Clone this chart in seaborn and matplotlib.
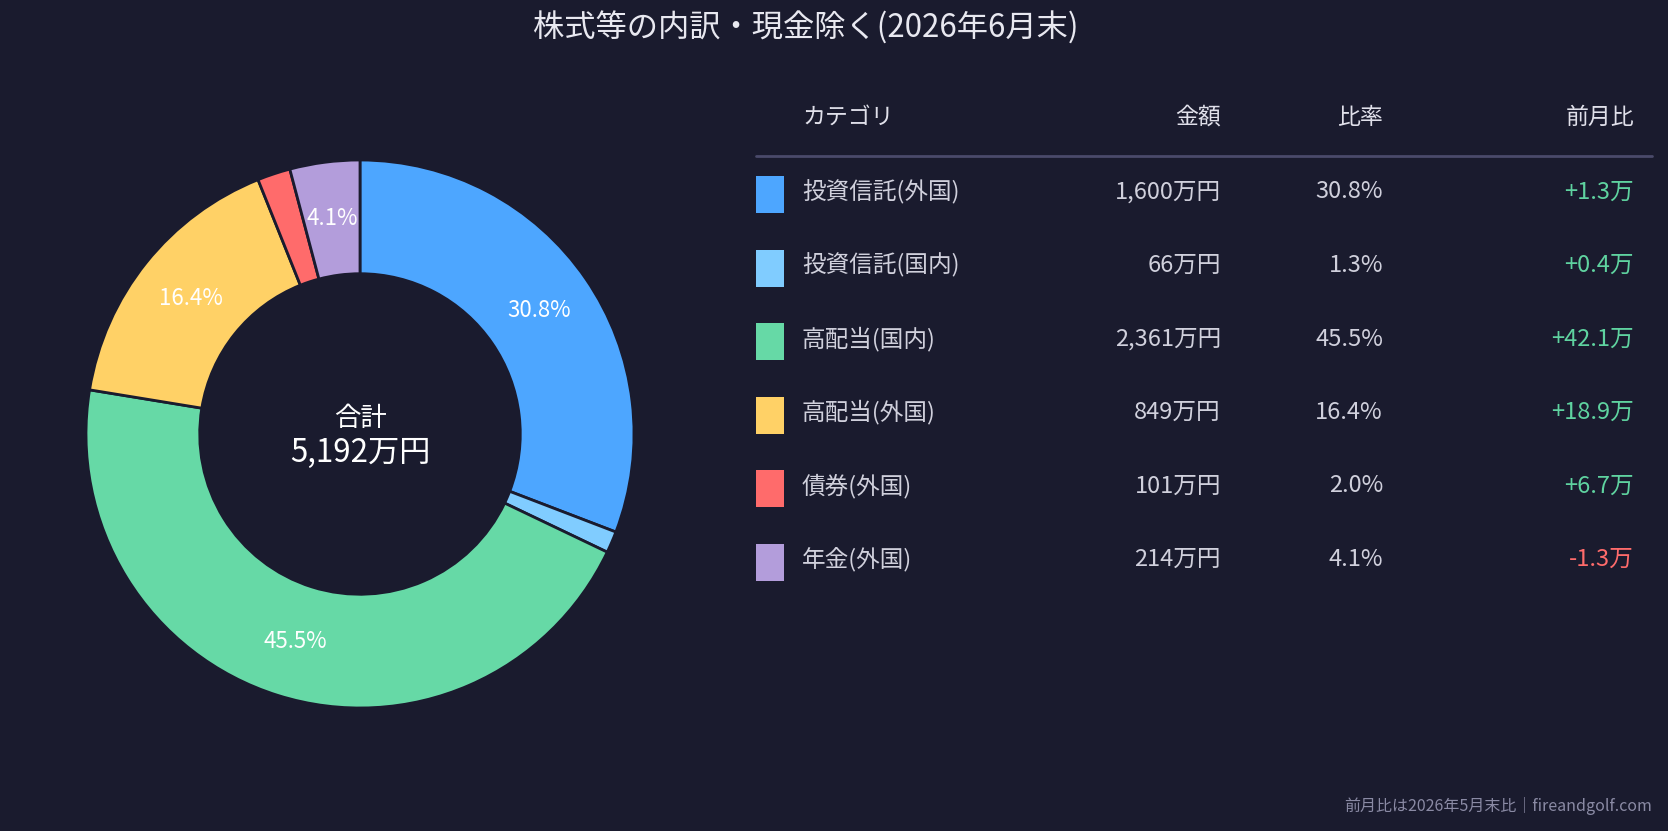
import matplotlib
matplotlib.use("Agg")
import matplotlib.pyplot as plt
import seaborn as sns
from matplotlib.patches import Rectangle

# ---- data ----
title = "株式等の内訳・現金除く(2026年6月末)"
categories = ["投資信託(外国)", "投資信託(国内)", "高配当(国内)", "高配当(外国)", "債券(外国)", "年金(外国)"]
amounts = [1600, 66, 2361, 849, 101, 214]          # 万円
amount_labels = ["1,600万円", "66万円", "2,361万円", "849万円", "101万円", "214万円"]
ratios = [30.8, 1.3, 45.5, 16.4, 2.0, 4.1]
mom_changes = [1.3, 0.4, 42.1, 18.9, 6.7, -1.3]    # 万円
total_label = "5,192万円"
headers = ["カテゴリ", "金額", "比率", "前月比"]
footer = "前月比は2026年5月末比｜fireandgolf.com"

colors = ["#4da6ff", "#80ccff", "#66d9a6", "#ffd166", "#ff6b6b", "#b39ddb"]
BG = "#1a1b2e"

sns.set_theme(style="white")
plt.rcParams["font.family"] = ["Noto Sans CJK JP", "DejaVu Sans"]

W, H = 1668, 831
fig = plt.figure(figsize=(W / 100, H / 100), dpi=100, facecolor=BG)

# ---- donut ----
cx, cy, R = 360, 434, 274
ax = fig.add_axes([(cx - R) / W, (H - cy - R) / H, 2 * R / W, 2 * R / H])
ax.set_facecolor(BG)
inner = 0.585
pct_iter = iter(ratios)

def fmt(p):
    v = next(pct_iter)
    return f"{v:.1f}%" if v >= 3 else ""

wedges, _, autotexts = ax.pie(
    amounts, colors=colors, startangle=90, counterclock=False,
    radius=1.0, autopct=fmt, pctdistance=(1 + inner) / 2,
    wedgeprops=dict(width=1 - inner, edgecolor=BG, linewidth=2),
    textprops=dict(color="white", fontsize=16),
)
ax.set_xlim(-1.0, 1.0)
ax.set_ylim(-1.0, 1.0)
ax.axis("off")
ax.text(0, 0.057, "合計", ha="center", va="center", color="white", fontsize=19)
ax.text(0, -0.068, total_label, ha="center", va="center", color="white", fontsize=22.5)

# ---- overlay (pixel coords) ----
ov = fig.add_axes([0, 0, 1, 1])
ov.set_xlim(0, W)
ov.set_ylim(H, 0)
ov.axis("off")
ov.patch.set_alpha(0)

ov.text(806, 28, title, ha="center", va="center", color="#e8e8f0", fontsize=22.5)

col_x = [802, 1221, 1383, 1634]
col_ha = ["left", "right", "right", "right"]
hdr_y = 117
for h, x, ha in zip(headers, col_x, col_ha):
    ov.text(x, hdr_y, h, ha=ha, va="center", color="#e0e0ea", fontsize=16.5)
ov.plot([756, 1652], [156, 156], color="#4a4a6a", lw=2)

row0, dy = 192, 73.5
for i, (cat, amt, r, ch, c) in enumerate(zip(categories, amount_labels, ratios, mom_changes, colors)):
    y = row0 + i * dy
    ov.add_patch(Rectangle((756, y - 16), 28, 37, facecolor=c, edgecolor="none"))
    ov.text(col_x[0], y, cat, ha="left", va="center", color="#d0d0dc", fontsize=17)
    ov.text(col_x[1], y, amt, ha="right", va="center", color="#d0d0dc", fontsize=17)
    ov.text(col_x[2], y, f"{r:.1f}%", ha="right", va="center", color="#d0d0dc", fontsize=17)
    ch_color = "#5fd3a0" if ch >= 0 else "#ff6b6b"
    ov.text(col_x[3], y, f"{ch:+.1f}万", ha="right", va="center", color=ch_color, fontsize=17)

ov.text(1652, 806, footer, ha="right", va="center", color="#8a8aa4", fontsize=11.5)

fig.savefig("out.png", dpi=100, facecolor=BG)
